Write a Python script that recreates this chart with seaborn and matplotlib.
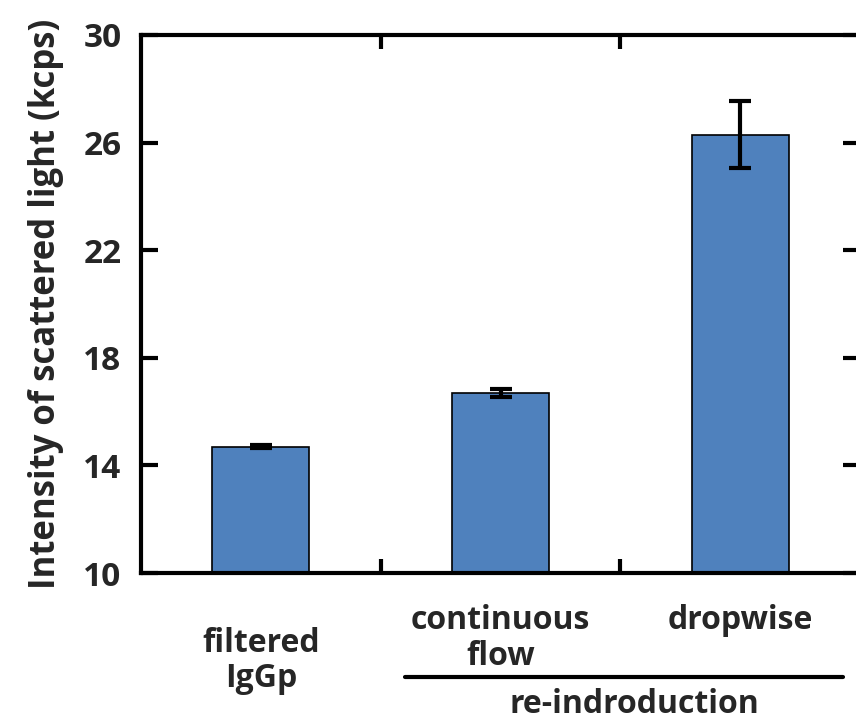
import numpy as np
import pandas as pd
import seaborn as sns
import matplotlib.pyplot as plt

categories = ["filtered IgGp", "continuous flow", "dropwise"]
intensity = [14.7, 16.7, 26.3]
intensity_err = [0.05, 0.15, 1.25]
tick_labels = ["filtered\nIgGp", "continuous\nflow", "dropwise"]
group_label = "re-indroduction"

df = pd.DataFrame({"sample": categories, "intensity": intensity})

sns.set_style("white")
plt.rcParams["font.family"] = ["Open Sans", "DejaVu Sans"]
plt.rcParams["font.weight"] = "bold"

fig = plt.figure(figsize=(8.56, 7.22), dpi=100)
ax = fig.add_axes([141 / 856, 1 - 573 / 722, 719 / 856, 538 / 722])

sns.barplot(data=df, x="sample", y="intensity", color="#4F81BD",
            width=0.405, edgecolor="black", linewidth=1.2, saturation=1,
            errorbar=None, ax=ax)
ax.errorbar(np.arange(len(categories)), intensity, yerr=intensity_err,
            fmt="none", ecolor="black", elinewidth=3, capsize=8,
            capthick=3)

ax.set_xlim(-0.5, 2.5)
ax.set_ylim(10, 30)
ax.set_yticks([10, 14, 18, 22, 26, 30])
ax.set_xticks([0.5, 1.5])
ax.set_xticklabels([])
ax.set_xlabel("")
ax.set_ylabel("Intensity of scattered light (kcps)", fontsize=25,
              fontweight="bold", labelpad=14)

for s in ax.spines.values():
    s.set_visible(True)
    s.set_linewidth(3)
    s.set_color("black")
ax.tick_params(axis="both", direction="in", width=3, color="black",
               top=True, right=True, bottom=True, left=True)
ax.tick_params(axis="y", length=12, labelsize=24, pad=14)
ax.tick_params(axis="x", length=10)

# category labels under the axis
label_y = [-0.1, -0.058, -0.058]
for i, lab in enumerate(tick_labels):
    ax.text(i, label_y[i], lab, transform=ax.get_xaxis_transform(),
            ha="center", va="top", fontsize=23, fontweight="bold",
            linespacing=1.1)

# bracket for the re-introduction group
ax.plot([0.6, 2.43], [-0.193, -0.193], transform=ax.get_xaxis_transform(),
        color="black", lw=3, clip_on=False)
ax.text(1.56, -0.214, group_label, transform=ax.get_xaxis_transform(),
        ha="center", va="top", fontsize=23, fontweight="bold")

plt.savefig("out.png", dpi=100)
plt.close()
